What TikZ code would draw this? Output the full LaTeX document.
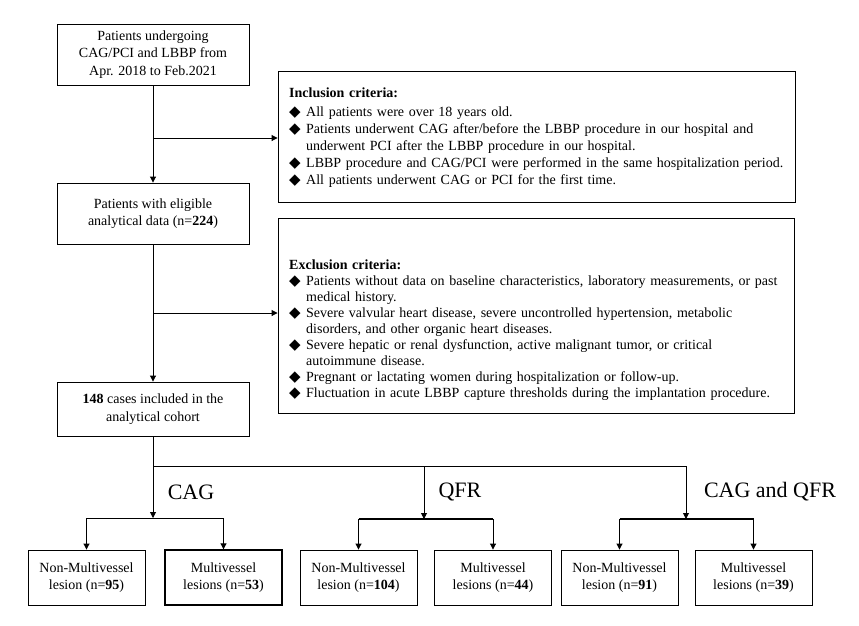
\documentclass[tikz,border=0pt]{standalone}
\usepackage{fontspec}
\setmainfont{Liberation Serif}
\newfontfamily\symfont{DejaVu Sans}
\usetikzlibrary{arrows.meta}
\newcommand\critem{\par\hangindent=17pt\hangafter=1\noindent\makebox[17pt][l]{\symfont\fontsize{15}{15}\selectfont ◆}}
\begin{document}
\begin{tikzpicture}[x=1pt,y=-1pt,
  box/.style={draw, line width=0.9pt, inner sep=0pt, align=center, font=\fontsize{14}{17.5}\selectfont},
  lesbox/.style={box, minimum width=117pt, minimum height=55pt},
  topbox/.style={box, minimum width=192pt},
  crit/.style={draw, line width=0.9pt, inner sep=0pt},
  critext/.style={anchor=north west, inner sep=0pt, text width=500pt, align=left},
  arr/.style={line width=0.9pt, -{Triangle[length=6pt,width=6pt]}},
  ln/.style={line width=0.9pt},
  thk/.style={line width=1.4pt},
  grp/.style={font=\fontsize{22}{24}\selectfont, inner sep=0pt}
]
\fill[white] (0,0) rectangle (859,625);
\useasboundingbox (0,0) rectangle (859,625);

% main boxes
\node[topbox, minimum height=61pt] (b1) at (153,54.5) {Patients undergoing\\CAG/PCI and LBBP from\\Apr. 2018 to Feb.2021};
\node[topbox, minimum height=61pt] (b2) at (153,213.5) {Patients with eligible\\analytical data (n=\textbf{224})};
\node[topbox, minimum height=54pt] (b3) at (153,409) {\textbf{148} cases included in the\\analytical cohort};

% criteria boxes
\node[crit, minimum width=517pt, minimum height=131pt] (inc) at (536.5,136.5) {};
\node[crit, minimum width=516pt, minimum height=195pt] (exc) at (536,315.5) {};

\node[critext, font=\fontsize{14}{17}\selectfont] (inct) at (289,88) {%
\noindent\textbf{Inclusion criteria:}\par\vspace{1.5pt}
\critem All patients were over 18 years old.
\critem Patients underwent CAG after/before the LBBP procedure in our hospital and\newline underwent PCI after the LBBP procedure in our hospital.
\critem LBBP procedure and CAG/PCI were performed in the same hospitalization period.
\critem All patients underwent CAG or PCI for the first time.\par};

\node[critext, font=\fontsize{14}{16}\selectfont] (exct) at (289,259.5) {%
\noindent\textbf{Exclusion criteria:}\par
\critem Patients without data on baseline characteristics, laboratory measurements, or past\newline medical history.
\critem Severe valvular heart disease, severe uncontrolled hypertension, metabolic\newline disorders, and other organic heart diseases.
\critem Severe hepatic or renal dysfunction, active malignant tumor, or critical\newline autoimmune disease.
\critem Pregnant or lactating women during hospitalization or follow-up.
\critem Fluctuation in acute LBBP capture thresholds during the implantation procedure.\par};

% lesion boxes
\node[lesbox] (A) at (86.5,577.5) {Non-Multivessel\\lesion (n=\textbf{95})};
\node[lesbox, line width=1.4pt] (B) at (223.5,577.5) {Multivessel\\lesions (n=\textbf{53})};
\node[lesbox] (C) at (358.5,577.5) {Non-Multivessel\\lesion (n=\textbf{104})};
\node[lesbox] (D) at (493,577.5) {Multivessel\\lesions (n=\textbf{44})};
\node[lesbox] (E) at (619.5,577.5) {Non-Multivessel\\lesion (n=\textbf{91})};
\node[lesbox] (F) at (753.5,577.5) {Multivessel\\lesions (n=\textbf{39})};

% group labels
\node[grp] (lcag) at (191,492) {CAG};
\node[grp] (lqfr) at (460,492) {QFR};
\node[grp] (lboth) at (770,492) {CAG and QFR};

% flow connectors
\coordinate (j1) at (153,138);
\coordinate (j2) at (153,313);
\draw[arr] (b1) -- (b2);
\draw[arr] (j1) -- (j1 -| inc.west);
\draw[arr] (b2) -- (b3);
\draw[arr] (j2) -- (j2 -| exc.west);

\coordinate (s0) at (153,466);
\coordinate (sq) at (424,466);
\coordinate (sb) at (686,466);
\coordinate (hcag) at (153,518);
\coordinate (hqfr) at (424,519);
\coordinate (hboth) at (686,519);
\draw[ln] (b3) -- (s0) -- (sb);
\draw[arr] (s0) -- (hcag);
\draw[arr] (sq) -- (hqfr);
\draw[arr] (sb) -- (hboth);

\draw[ln] (hcag -| A) -- (hcag -| B);
\draw[thk] (hqfr -| C) -- (hqfr -| D);
\draw[thk] (hboth -| E) -- (hboth -| F);
\draw[arr] (hcag -| A) -- (A);
\draw[arr] (hcag -| B) -- (B);
\draw[arr] (hqfr -| C) -- (C);
\draw[arr] (hqfr -| D) -- (D);
\draw[arr] (hboth -| E) -- (E);
\draw[arr] (hboth -| F) -- (F);
\end{tikzpicture}
\end{document}
